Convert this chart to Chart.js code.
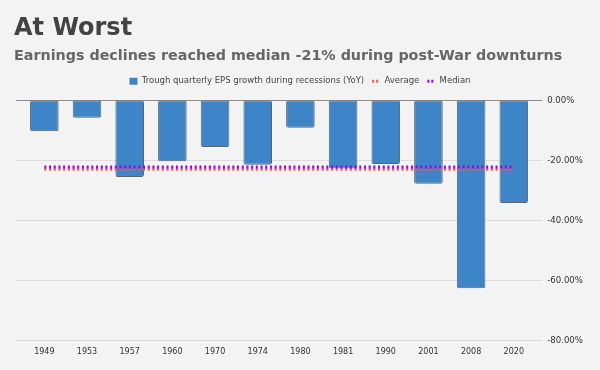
<!DOCTYPE html>
<html>
<head>
<meta charset="utf-8">
<script src="https://cdn.jsdelivr.net/npm/chart.js@4.4.1/dist/chart.umd.min.js"></script>
<style>
  html, body { margin: 0; padding: 0; background: #f3f3f3; }
  #wrap { width: 600px; height: 370px; }
</style>
</head>
<body>
<div id="wrap"><canvas id="c" width="600" height="370"></canvas></div>
<script>
const categories = ['1949','1953','1957','1960','1970','1974','1980','1981','1990','2001','2008','2020'];
const troughEps = [-10.3, -5.8, -25.5, -20.3, -15.5, -21.4, -9.1, -22.7, -21.2, -27.8, -62.6, -34.2];
const averageValues = [-22.9, -22.9, -22.9, -22.9, -22.9, -22.9, -22.9, -22.9, -22.9, -22.9, -22.9, -22.9];
const medianValues = [-22.2, -22.2, -22.2, -22.2, -22.2, -22.2, -22.2, -22.2, -22.2, -22.2, -22.2, -22.2];
const yTicks = [0, -20, -40, -60, -80];

const FONT = "'DejaVu Sans', Verdana, sans-serif";

const gridPlugin = {
  id: 'extGrid',
  afterLayout(chart) {
    // centre the legend on the canvas rather than on the padded box
    if (chart.legend) { chart.legend.left -= 4.5; chart.legend.right -= 4.5; }
  },
  beforeDatasetsDraw(chart) {
    const ctx = chart.ctx, area = chart.chartArea, y = chart.scales.y;
    ctx.save();
    yTicks.forEach(v => {
      const py = Math.round(y.getPixelForValue(v)) + 0.5;
      ctx.beginPath();
      ctx.strokeStyle = v === 0 ? '#8a8a8a' : '#dcdcdc';
      ctx.lineWidth = 1;
      ctx.moveTo(area.left - 7, py);
      ctx.lineTo(area.right + 7, py);
      ctx.stroke();
    });
    ctx.restore();
  }
};

new Chart(document.getElementById('c'), {
  data: {
    labels: categories,
    datasets: [
      {
        type: 'bar',
        label: 'Trough quarterly EPS growth during recessions (YoY)',
        data: troughEps,
        xAxisID: 'x',
        yAxisID: 'y',
        backgroundColor: '#3d85c6',
        borderColor: '#5f6368',
        borderWidth: 1,
        borderRadius: 2,
        borderSkipped: false,
        categoryPercentage: 1,
        barPercentage: 0.67,
        order: 3
      },
      {
        type: 'line',
        label: 'Average',
        data: averageValues,
        xAxisID: 'x',
        yAxisID: 'y',
        borderColor: '#f4594c',
        backgroundColor: '#f4594c',
        borderWidth: 3,
        borderDash: [2, 2.7],
        pointRadius: 0,
        fill: false,
        order: 2
      },
      {
        type: 'line',
        label: 'Median',
        data: medianValues,
        xAxisID: 'x',
        yAxisID: 'y',
        borderColor: '#9900ff',
        backgroundColor: '#9900ff',
        borderWidth: 3,
        borderDash: [2, 2.7],
        pointRadius: 0,
        fill: false,
        order: 1
      }
    ]
  },
  options: {
    responsive: false,
    animation: false,
    layout: { padding: { left: 14, right: 5, top: 4, bottom: 6 } },
    plugins: {
      title: {
        display: true,
        text: 'At Worst',
        align: 'start',
        color: '#434343',
        font: { family: FONT, size: 24, weight: 'bold' },
        padding: { top: 10, bottom: 5 }
      },
      subtitle: {
        display: true,
        text: 'Earnings declines reached median -21% during post-War downturns',
        align: 'start',
        color: '#666666',
        font: { family: FONT, size: 14.3, weight: 'bold' },
        padding: { top: 0, bottom: 4 }
      },
      legend: {
        display: true,
        position: 'top',
        labels: {
          usePointStyle: true,
          pointStyleWidth: 8,
          boxWidth: 8,
          boxHeight: 7,
          color: '#444444',
          font: { family: FONT, size: 8.5 },
          padding: 8,
          generateLabels(chart) {
            return chart.data.datasets.map((ds, i) => ({
              text: ds.label,
              fillStyle: ds.backgroundColor,
              strokeStyle: ds.type === 'bar' ? ds.backgroundColor : ds.borderColor,
              lineWidth: ds.type === 'bar' ? 0 : 3,
              lineDash: ds.type === 'bar' ? [] : [2, 2],
              pointStyle: ds.type === 'bar' ? 'rect' : 'line',
              fontColor: '#444444',
              hidden: false,
              datasetIndex: i
            }));
          }
        }
      },
      tooltip: { enabled: false }
    },
    scales: {
      x: {
        type: 'category',
        position: 'bottom',
        grid: { display: false, drawTicks: false },
        border: { display: false },
        ticks: { color: '#333333', font: { family: FONT, size: 8 }, padding: 7, maxRotation: 0 }
      },
      xt: {
        type: 'category',
        position: 'top',
        display: true,
        grid: { display: false, drawTicks: false },
        border: { display: false },
        ticks: { display: false },
        afterFit(s) { s.height = 5; }
      },
      y: {
        type: 'linear',
        position: 'right',
        min: -80,
        max: 0,
        grid: { display: false, drawTicks: false },
        border: { display: false },
        afterBuildTicks(scale) { scale.ticks = yTicks.map(v => ({ value: v })); },
        ticks: {
          color: '#333333',
          font: { family: FONT, size: 8.6 },
          padding: 12,
          callback: v => v.toFixed(2) + '%'
        }
      },
      yl: {
        type: 'linear',
        position: 'left',
        display: true,
        grid: { display: false, drawTicks: false },
        border: { display: false },
        ticks: { display: false },
        afterFit(s) { s.width = 9; }
      }
    }
  },
  plugins: [gridPlugin]
});
</script>
</body>
</html>
